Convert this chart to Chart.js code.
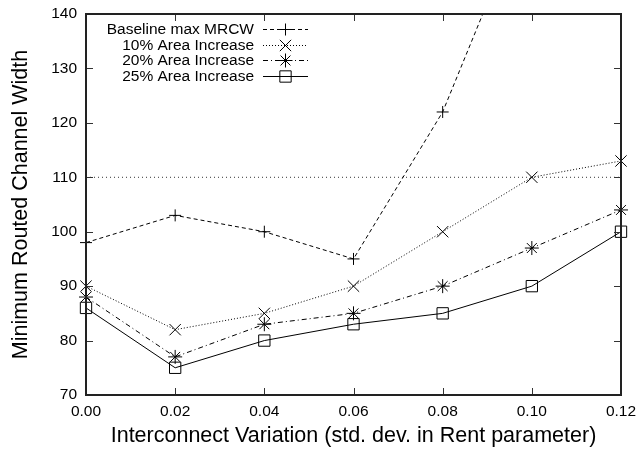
<!DOCTYPE html>
<html>
<head>
<meta charset="utf-8">
<script src="https://cdn.jsdelivr.net/npm/chart.js@4/dist/chart.umd.min.js"></script>
<style>
  html, body { margin: 0; padding: 0; background: #fff; }
  #wrap { width: 636px; height: 450px; }
</style>
</head>
<body>
<div id="wrap"><canvas id="c" width="636" height="450"></canvas></div>
<script>
// Rent-parameter spread (x) and the routed channel width reached by each configuration
const variation   = ['0.00', '0.02', '0.04', '0.06', '0.08', '0.10', '0.12'];
const seriesNames = ['Baseline max MRCW', '10% Area Increase', '20% Area Increase', '25% Area Increase'];
const baselineMax = [98, 103, 100, 95, 122, 162, null];
const area10      = [90, 82, 85, 90, 100, 110, 113];
const area20      = [88, 77, 83, 85, 90, 97, 104];
const area25      = [86, 75, 80, 83, 85, 90, 100];
const widthLimit  = [110, 110, 110, 110, 110, 110, 110];
const yTicks      = [70, 80, 90, 100, 110, 120, 130, 140];

const FONT = '"Liberation Sans", Arial, Helvetica, sans-serif';
const INK = '#000';

function series(label, data, dash, style, radius) {
  return {
    label, data,
    borderColor: INK, borderWidth: 1, borderDash: dash,
    pointStyle: style, pointRadius: radius, pointHoverRadius: radius,
    pointBorderColor: INK, pointBackgroundColor: 'rgba(0,0,0,0)', pointBorderWidth: 1,
    tension: 0, fill: false, spanGaps: false
  };
}

// Frame with inward tick marks on all four sides
const framePlugin = {
  id: 'frame',
  afterDatasetsDraw(chart) {
    const { ctx, chartArea: a, scales: { x, y } } = chart;
    ctx.save();
    ctx.strokeStyle = '#333';
    ctx.lineWidth = 1;
    const tl = 7;
    ctx.beginPath();
    x.ticks.forEach((t, i) => {
      const px = Math.round(x.getPixelForTick(i)) + 0.5;
      ctx.moveTo(px, a.bottom); ctx.lineTo(px, a.bottom - tl);
      ctx.moveTo(px, a.top); ctx.lineTo(px, a.top + tl);
    });
    yTicks.forEach(v => {
      const py = Math.round(y.getPixelForValue(v)) + 0.5;
      ctx.moveTo(a.left, py); ctx.lineTo(a.left + tl, py);
      ctx.moveTo(a.right, py); ctx.lineTo(a.right - tl, py);
    });
    ctx.stroke();
    ctx.strokeStyle = '#222';
    ctx.lineWidth = 2;
    ctx.strokeRect(a.left, a.top, a.right - a.left, a.bottom - a.top);
    ctx.restore();
  }
};

// Key in the upper-left corner: right-aligned text followed by a line sample
const keyPlugin = {
  id: 'key',
  afterDatasetsDraw(chart) {
    const { ctx } = chart;
    const textRight = 254, x0 = 263, x1 = 308, y0 = 29, step = 15.5;
    ctx.save();
    ctx.font = '15.5px ' + FONT;
    ctx.textAlign = 'right';
    ctx.textBaseline = 'middle';
    seriesNames.forEach((name, i) => {
      const ds = chart.data.datasets[i];
      const yy = Math.round(y0 + i * step) + 0.5;
      ctx.fillStyle = INK;
      ctx.fillText(name, textRight, yy);
      ctx.beginPath();
      ctx.strokeStyle = INK;
      ctx.lineWidth = 1;
      ctx.setLineDash(ds.borderDash || []);
      ctx.moveTo(x0, yy);
      ctx.lineTo(x1, yy);
      ctx.stroke();
      ctx.setLineDash([]);
      ctx.fillStyle = 'rgba(0,0,0,0)';
      Chart.helpers.drawPoint(ctx, {
        pointStyle: ds.pointStyle, radius: ds.pointRadius, rotation: 0, borderWidth: 1
      }, (x0 + x1) / 2, yy);
    });
    ctx.restore();
  }
};

new Chart(document.getElementById('c'), {
  type: 'line',
  data: {
    labels: variation,
    datasets: [
      series(seriesNames[0], baselineMax, [4, 3], 'cross', 6),
      series(seriesNames[1], area10, [1, 2], 'crossRot', 8),
      series(seriesNames[2], area20, [5, 3, 1, 3], 'star', 7),
      series(seriesNames[3], area25, [], 'rect', 8),
      {
        label: 'limit', data: widthLimit,
        borderColor: '#333', borderWidth: 1, borderDash: [1, 3],
        pointRadius: 0, pointHoverRadius: 0, tension: 0, fill: false
      }
    ]
  },
  plugins: [framePlugin, keyPlugin],
  options: {
    responsive: false,
    animation: false,
    devicePixelRatio: 1,
    layout: { padding: { left: 0, top: 14, right: 15, bottom: 0 } },
    plugins: { legend: { display: false }, tooltip: { enabled: false } },
    events: [],
    scales: {
      x: {
        type: 'category',
        offset: false,
        grid: { display: false, drawTicks: false },
        border: { display: false },
        ticks: { color: INK, font: { family: FONT, size: 15.5 }, padding: 7, maxRotation: 0, autoSkip: false },
        title: { display: true, text: 'Interconnect Variation (std. dev. in Rent parameter)', color: INK,
                 font: { family: FONT, size: 21.5 }, padding: { top: 0, bottom: 1 } },
        afterFit: s => { s.height = 55; s.paddingLeft = 0; s.paddingRight = 0; }
      },
      y: {
        type: 'linear',
        min: 70, max: 140,
        grid: { display: false, drawTicks: false },
        border: { display: false },
        ticks: { color: INK, font: { family: FONT, size: 15.5 }, padding: 9, stepSize: 10 },
        afterBuildTicks: s => { s.ticks = yTicks.map(v => ({ value: v })); },
        title: { display: true, text: 'Minimum Routed Channel Width', color: INK,
                 font: { family: FONT, size: 21.5 }, padding: { top: 8, bottom: 0 } },
        afterFit: s => { s.width = 86; s.paddingTop = 0; s.paddingBottom = 0; }
      }
    }
  }
});
</script>
</body>
</html>
